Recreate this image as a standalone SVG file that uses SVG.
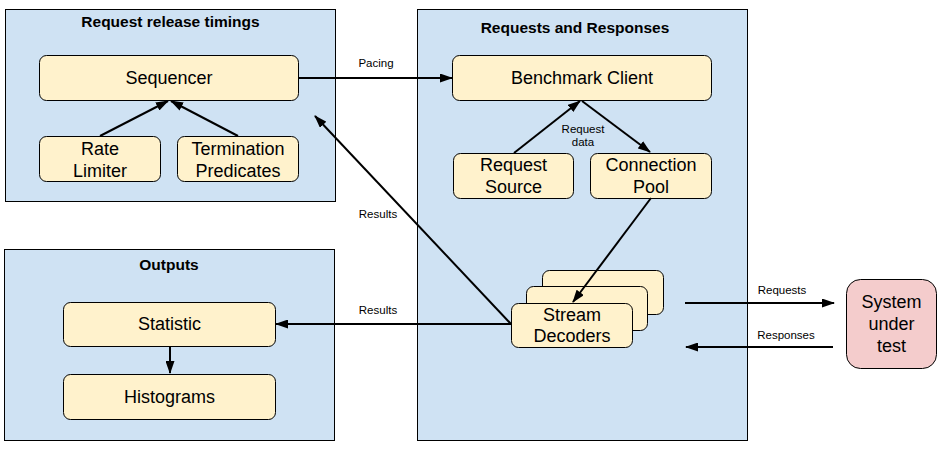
<svg xmlns="http://www.w3.org/2000/svg" width="944" height="451" viewBox="0 0 944 451">
<style>
.panel{fill:#cfe2f3;stroke:#000;stroke-width:1}
.node{fill:#fff2cc;stroke:#000;stroke-width:1}
.sut{fill:#f4cccc;stroke:#000;stroke-width:1}
.t{font-family:"Liberation Sans",Arial,sans-serif;font-size:18px;fill:#000;text-anchor:middle}
.title{font-family:"Liberation Sans",Arial,sans-serif;font-size:15.5px;font-weight:bold;fill:#000;text-anchor:middle}
.lbl{font-family:"Liberation Sans",Arial,sans-serif;font-size:11.5px;fill:#000;text-anchor:middle}
.c{stroke:#000;stroke-width:2;fill:none}
</style>
<defs>
<marker id="ah" markerUnits="userSpaceOnUse" markerWidth="13" markerHeight="9" refX="12" refY="4.5" orient="auto">
<path d="M0,0 L13,4.5 L0,9 z" fill="#000"/>
</marker>
</defs>
<g id="panel-timings">
<rect class="panel" x="5.5" y="9.5" width="330" height="192"/>
<text class="title" x="170.5" y="27">Request release timings</text>
</g>
<g id="panel-requests">
<rect class="panel" x="417.5" y="9.5" width="330" height="431"/>
<text class="title" x="575" y="32.5">Requests and Responses</text>
</g>
<g id="panel-outputs">
<rect class="panel" x="4.5" y="249.5" width="330" height="191"/>
<text class="title" x="169" y="270">Outputs</text>
</g>
<g id="sequencer">
<rect class="node" x="39.5" y="55.5" width="259" height="45" rx="7"/>
<text class="t" x="169" y="84">Sequencer</text>
</g>
<g id="rate-limiter">
<rect class="node" x="39.5" y="136.5" width="121" height="45" rx="7"/>
<text class="t" x="100" y="155">Rate</text>
<text class="t" x="100" y="177">Limiter</text>
</g>
<g id="termination-predicates">
<rect class="node" x="177.5" y="136.5" width="121" height="45" rx="7"/>
<text class="t" x="238" y="155">Termination</text>
<text class="t" x="238" y="177">Predicates</text>
</g>
<g id="benchmark-client">
<rect class="node" x="452.5" y="55.5" width="259" height="45" rx="7"/>
<text class="t" x="582" y="84">Benchmark Client</text>
</g>
<g id="request-source">
<rect class="node" x="453.5" y="153.5" width="120" height="45" rx="7"/>
<text class="t" x="513.5" y="171">Request</text>
<text class="t" x="513.5" y="193">Source</text>
</g>
<g id="connection-pool">
<rect class="node" x="590.5" y="153.5" width="121" height="45" rx="7"/>
<text class="t" x="651" y="171">Connection</text>
<text class="t" x="651" y="193">Pool</text>
</g>
<g id="stream-decoders">
<rect class="node" x="542.5" y="270.5" width="121" height="44" rx="7"/>
<rect class="node" x="526.5" y="286.5" width="121" height="44" rx="7"/>
<rect class="node" x="511.5" y="303.5" width="121" height="44" rx="7"/>
<text class="t" x="572" y="321">Stream</text>
<text class="t" x="572" y="342">Decoders</text>
</g>
<g id="statistic">
<rect class="node" x="63.5" y="302.5" width="212" height="44" rx="7"/>
<text class="t" x="169.5" y="330">Statistic</text>
</g>
<g id="histograms">
<rect class="node" x="63.5" y="374.5" width="212" height="45" rx="7"/>
<text class="t" x="169.5" y="403">Histograms</text>
</g>
<g id="system-under-test">
<rect class="sut" x="846.5" y="279.5" width="90" height="89" rx="14"/>
<text class="t" x="891.5" y="308">System</text>
<text class="t" x="891.5" y="330">under</text>
<text class="t" x="891.5" y="352">test</text>
</g>
<g id="connectors">
<line class="c" x1="100" y1="136" x2="168" y2="101" marker-end="url(#ah)"/>
<line class="c" x1="238" y1="136" x2="171" y2="101" marker-end="url(#ah)"/>
<line class="c" x1="298" y1="78" x2="452" y2="78" marker-end="url(#ah)"/>
<line class="c" x1="514" y1="153" x2="580" y2="101" marker-end="url(#ah)"/>
<line class="c" x1="582" y1="101" x2="650" y2="152" marker-end="url(#ah)"/>
<line class="c" x1="651" y1="198" x2="573" y2="302" marker-end="url(#ah)"/>
<line class="c" x1="511" y1="324" x2="315" y2="116" marker-end="url(#ah)"/>
<line class="c" x1="511" y1="324" x2="276" y2="324" marker-end="url(#ah)"/>
<line class="c" x1="170" y1="347" x2="170" y2="373" marker-end="url(#ah)"/>
<line class="c" x1="685" y1="303" x2="834" y2="303" marker-end="url(#ah)"/>
<line class="c" x1="833" y1="347" x2="686" y2="347" marker-end="url(#ah)"/>
<text class="lbl" x="376" y="66.5">Pacing</text>
<text class="lbl" x="583" y="132.5">Request</text>
<text class="lbl" x="583" y="146">data</text>
<text class="lbl" x="378" y="217.5">Results</text>
<text class="lbl" x="378" y="313.5">Results</text>
<text class="lbl" x="782" y="293.5">Requests</text>
<text class="lbl" x="786" y="338.5">Responses</text>
</g>
</svg>
